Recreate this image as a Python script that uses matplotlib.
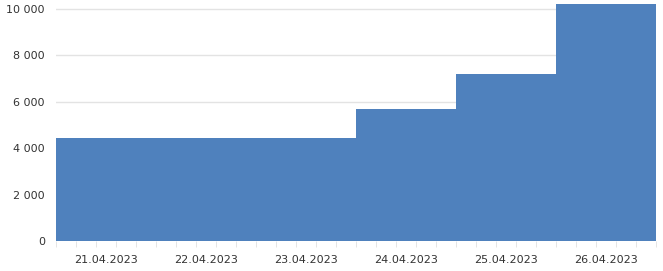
import matplotlib
matplotlib.use("Agg")
import matplotlib.pyplot as plt
import numpy as np
from matplotlib.ticker import FuncFormatter, MultipleLocator

dates = ["21.04.2023", "22.04.2023", "23.04.2023", "24.04.2023", "25.04.2023", "26.04.2023"]
values = [4450, 4450, 4450, 5700, 7200, 10200]
yticks = [0, 2000, 4000, 6000, 8000, 10000]

plt.rcParams['font.family'] = ['DejaVu Sans']
fig = plt.figure(figsize=(6.63, 2.71), dpi=100)
W, H = 663, 271
ax = fig.add_axes([56 / W, 1 - 241 / H, 600 / W, 241 / H])

x = np.arange(len(dates) + 1)
yext = values + [values[-1]]
ax.fill_between(x, yext, 0, step='post', color='#4f81bd', linewidth=0, zorder=2)

ax.set_xlim(0, len(dates))
ax.set_ylim(0, 10388)
ax.set_yticks(yticks)
ax.yaxis.set_major_formatter(FuncFormatter(lambda v, p: f"{int(v):,}".replace(",", " ")))
ax.grid(axis='y', color='#e3e3e3', linewidth=1, zorder=0)
ax.set_xticks(np.arange(len(dates)) + 0.5)
ax.set_xticklabels(dates)
ax.xaxis.set_minor_locator(MultipleLocator(0.2))
ax.tick_params(axis='x', which='major', length=0, pad=10, labelsize=8, labelcolor='#333333')
ax.tick_params(axis='x', which='minor', length=4, color='#e0e0e0')
ax.tick_params(axis='y', length=0, pad=8, labelsize=8, labelcolor='#333333')
for s in ax.spines.values():
    s.set_visible(False)

fig.savefig("out.png", dpi=100)
